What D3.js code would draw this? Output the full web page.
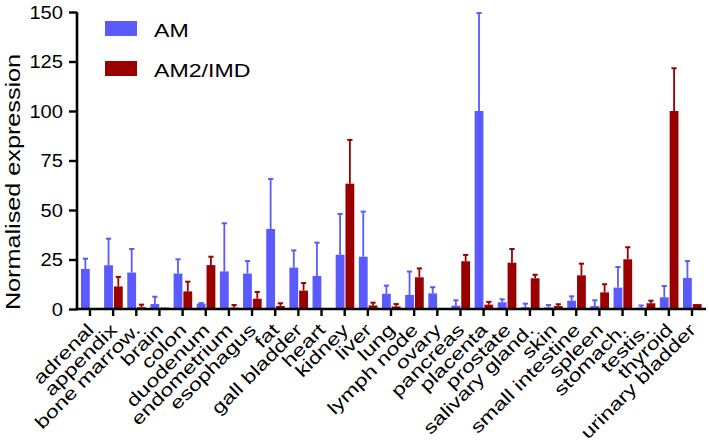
<!DOCTYPE html>
<html>
<head>
<meta charset="utf-8">
<script src="https://cdn.jsdelivr.net/npm/d3@7"></script>
<style>
  html, body { margin: 0; padding: 0; background: #fff; }
  svg { display: block; }
  text { font-family: "Liberation Sans", Arial, Helvetica, sans-serif; fill: #000; }
</style>
</head>
<body>
<svg id="chart" width="709" height="445"></svg>
<script>
const categories = ["adrenal", "appendix", "bone marrow.", "brain", "colon", "duodenum",
  "endometrium", "esophagus", "fat", "gall bladder", "heart", "kidney", "liver", "lung",
  "lymph node", "ovary", "pancreas", "placenta", "prostate", "salivary gland.", "skin",
  "small intestine", "spleen", "stomach.", "testis.", "thyroid", "urinary bladder"];

const seriesNames = ["AM", "AM2/IMD"];

const amValues = [20.2, 22.1, 18.4, 2.5, 17.9, 2.7, 19.0, 17.9, 40.4, 20.9, 16.7, 27.4, 26.4, 7.7,
  7.1, 7.9, 1.7, 100, 3.4, 0.9, 0.8, 4.2, 1.5, 10.8, 0.7, 5.9, 15.7];
const amErrors = [5.2, 13.4, 11.9, 3.7, 7.2, 0.3, 24.3, 6.3, 25.3, 8.7, 16.8, 20.6, 22.8, 4.1,
  11.8, 3.1, 2.7, 49.5, 1.5, 1.8, 1.2, 2.2, 2.9, 10.4, 1.1, 5.7, 8.5];

const am2Values = [0, 11.4, 0.9, 0.7, 8.9, 22.2, 0.7, 5.2, 1.5, 9.3, 0, 63.3, 1.8, 1.3,
  16.0, 0, 24.1, 2.2, 23.4, 15.5, 1.5, 17.0, 8.4, 25.1, 2.9, 100, 2.5];
const am2Errors = [0, 4.8, 1.3, 0, 4.9, 4.2, 1.3, 3.4, 1.4, 3.8, 0, 22.1, 1.4, 1.2,
  4.5, 0, 3.2, 1.4, 6.9, 1.8, 0.9, 5.9, 4.1, 6.1, 1.3, 21.6, 0];

const yTicks = [0, 25, 50, 75, 100, 125, 150];
const yLabel = "Normalised expression";

const colors = { "AM": "#5a5aff", "AM2/IMD": "#9b0000" };

const svg = d3.select("#chart");

const y = d3.scaleLinear().domain([0, 150]).range([309, 12]);
const x0 = d3.scaleBand().domain(categories).range([78.4, 703.6]).padding(0);
const x1 = d3.scaleBand().domain(seriesNames).range([-9, 9.6]).paddingInner(0.1);

const series = [
  { name: "AM", values: amValues, errors: amErrors },
  { name: "AM2/IMD", values: am2Values, errors: am2Errors }
];

const center = c => x0(c) + x0.bandwidth() / 2;

// bars
series.forEach(s => {
  const g = svg.append("g");
  const data = categories.map((c, i) => ({ c, v: s.values[i], e: s.errors[i] }));
  g.selectAll("rect").data(data.filter(d => d.v > 0)).join("rect")
    .attr("x", d => center(d.c) + x1(s.name))
    .attr("width", x1.bandwidth())
    .attr("y", d => y(d.v))
    .attr("height", d => y(0) - y(d.v))
    .attr("fill", colors[s.name]);
  const eb = data.filter(d => d.v > 0 && d.e > 0);
  g.selectAll("line.err").data(eb).join("line")
    .attr("class", "err")
    .attr("x1", d => center(d.c) + x1(s.name) + x1.bandwidth() / 2)
    .attr("x2", d => center(d.c) + x1(s.name) + x1.bandwidth() / 2)
    .attr("y1", d => y(d.v))
    .attr("y2", d => y(d.v + d.e))
    .attr("stroke", colors[s.name]).attr("stroke-width", 1.8);
  g.selectAll("line.cap").data(eb).join("line")
    .attr("class", "cap")
    .attr("x1", d => center(d.c) + x1(s.name) + x1.bandwidth() / 2 - 2.6)
    .attr("x2", d => center(d.c) + x1(s.name) + x1.bandwidth() / 2 + 2.6)
    .attr("y1", d => y(d.v + d.e))
    .attr("y2", d => y(d.v + d.e))
    .attr("stroke", colors[s.name]).attr("stroke-width", 2);
});

// y axis
const yAxis = d3.axisLeft(y).tickValues(yTicks).tickSize(8).tickPadding(6);
const yg = svg.append("g").attr("transform", "translate(77,0)").call(yAxis);
yg.select(".domain").attr("stroke", "#000").attr("stroke-width", 2.6)
  .attr("d", `M0,${y(150)}V${y(0) + 1.3}`);
yg.selectAll(".tick line").attr("stroke", "#000").attr("stroke-width", 2.4);
yg.selectAll(".tick text")
  .attr("font-size", 17.5)
  .attr("dy", "0.36em")
  .attr("x", null)
  .attr("transform", "translate(-14,0) scale(1.15,1)")
  .style("font-family", "'Liberation Sans', Arial, sans-serif");

// x axis
const xAxis = d3.axisBottom(x0).tickSize(7).tickFormat("");
const xg = svg.append("g").attr("transform", `translate(0,${y(0)})`).call(xAxis);
xg.select(".domain").attr("stroke", "#000").attr("stroke-width", 2.6)
  .attr("d", "M75.7,0H706");
xg.selectAll(".tick line").attr("stroke", "#000").attr("stroke-width", 2.4);

// x labels rotated
svg.append("g").selectAll("text").data(categories).join("text")
  .attr("transform", d => `translate(${center(d) + 5},${331}) rotate(-45) scale(1.3,1)`)
  .attr("text-anchor", "end")
  .attr("font-size", 17.8)
  .text(d => d);

// y label
svg.append("text")
  .attr("transform", "translate(19.5,182) rotate(-90) scale(1.2,1)")
  .attr("text-anchor", "middle")
  .attr("font-size", 21)
  .text(yLabel);

// legend
const legend = svg.append("g");
seriesNames.forEach((name, i) => {
  legend.append("rect")
    .attr("x", 105).attr("y", 21 + i * 40)
    .attr("width", 32).attr("height", 15)
    .attr("fill", colors[name]);
  legend.append("text")
    .attr("transform", `translate(154,${36.5 + i * 40}) scale(1.3,1)`)
    .attr("font-size", 17.8)
    .text(name);
});
</script>
</body>
</html>
